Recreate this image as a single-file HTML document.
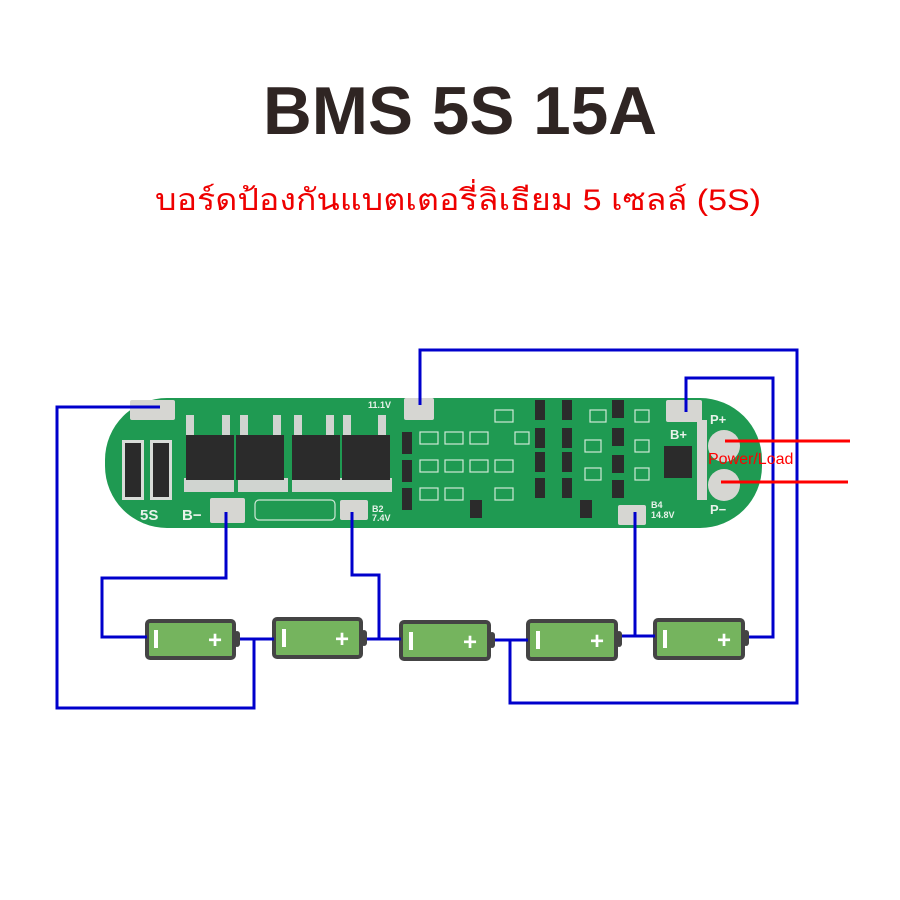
<!DOCTYPE html>
<html><head><meta charset="utf-8"><style>
html,body{margin:0;padding:0;background:#fff;width:900px;height:900px;overflow:hidden}
</style></head><body>
<svg width="900" height="900" viewBox="0 0 900 900" xmlns="http://www.w3.org/2000/svg">
<rect width="900" height="900" fill="#fff"/>
<text x="460" y="134" text-anchor="middle" font-family="Liberation Sans, sans-serif" font-weight="bold" font-size="68" fill="#2f2523" textLength="394" lengthAdjust="spacingAndGlyphs">BMS 5S 15A</text>
<text x="458" y="210" text-anchor="middle" font-family="Liberation Sans, sans-serif" font-size="30" fill="#ee0000" textLength="606" lengthAdjust="spacingAndGlyphs">บอร์ดป้องกันแบตเตอรี่ลิเธียม 5 เซลล์ (5S)</text>

<!-- PCB -->
<rect x="105" y="398" width="657" height="130" rx="62" fill="#1f9a52"/>
<!-- resistors -->
<rect x="122" y="440" width="22" height="60" fill="#d8dcd8"/>
<rect x="125" y="443" width="16" height="54" fill="#2a2a2a"/>
<rect x="150" y="440" width="22" height="60" fill="#d8dcd8"/>
<rect x="153" y="443" width="16" height="54" fill="#2a2a2a"/>
<!-- mosfets -->
<g fill="#d0d4d0">
<rect x="186" y="415" width="8" height="22"/><rect x="222" y="415" width="8" height="22"/>
<rect x="240" y="415" width="8" height="22"/><rect x="273" y="415" width="8" height="22"/>
<rect x="294" y="415" width="8" height="22"/><rect x="326" y="415" width="8" height="22"/>
<rect x="343" y="415" width="8" height="22"/><rect x="378" y="415" width="8" height="22"/>
<rect x="184" y="478" width="50" height="14"/><rect x="238" y="478" width="50" height="14"/>
<rect x="292" y="478" width="50" height="14"/><rect x="342" y="478" width="50" height="14"/>
</g>
<g fill="#2b2b2b">
<rect x="186" y="435" width="48" height="45"/><rect x="236" y="435" width="48" height="45"/>
<rect x="292" y="435" width="48" height="45"/><rect x="342" y="435" width="48" height="45"/>
</g>
<!-- small components -->
<g fill="#2b2b2b">
<rect x="402" y="432" width="10" height="22"/><rect x="402" y="460" width="10" height="22"/><rect x="402" y="488" width="10" height="22"/>
<rect x="535" y="400" width="10" height="20"/><rect x="535" y="428" width="10" height="20"/><rect x="535" y="452" width="10" height="20"/><rect x="535" y="478" width="10" height="20"/>
<rect x="562" y="400" width="10" height="20"/><rect x="562" y="428" width="10" height="20"/><rect x="562" y="452" width="10" height="20"/><rect x="562" y="478" width="10" height="20"/>
<rect x="612" y="400" width="12" height="18"/><rect x="612" y="428" width="12" height="18"/><rect x="612" y="455" width="12" height="18"/><rect x="612" y="480" width="12" height="18"/>
<rect x="664" y="446" width="28" height="32"/>
<rect x="470" y="500" width="12" height="18"/><rect x="580" y="500" width="12" height="18"/>
</g>
<g fill="none" stroke="#cfe8d6" stroke-width="1.2">
<rect x="420" y="432" width="18" height="12"/><rect x="445" y="432" width="18" height="12"/><rect x="470" y="432" width="18" height="12"/>
<rect x="420" y="460" width="18" height="12"/><rect x="445" y="460" width="18" height="12"/><rect x="470" y="460" width="18" height="12"/><rect x="495" y="460" width="18" height="12"/>
<rect x="420" y="488" width="18" height="12"/><rect x="445" y="488" width="18" height="12"/><rect x="495" y="488" width="18" height="12"/>
<rect x="495" y="410" width="18" height="12"/><rect x="515" y="432" width="14" height="12"/><rect x="590" y="410" width="16" height="12"/>
<rect x="585" y="440" width="16" height="12"/><rect x="585" y="468" width="16" height="12"/><rect x="635" y="410" width="14" height="12"/><rect x="635" y="440" width="14" height="12"/><rect x="635" y="468" width="14" height="12"/>
<rect x="255" y="500" width="80" height="20" rx="4"/>
</g>
<!-- pads -->
<g fill="#d6d6d2">
<rect x="130" y="400" width="45" height="20" rx="2"/>
<rect x="210" y="498" width="35" height="25" rx="2"/>
<rect x="340" y="500" width="28" height="20" rx="2"/>
<rect x="404" y="398" width="30" height="22" rx="2"/>
<rect x="618" y="505" width="28" height="20" rx="2"/>
<rect x="666" y="400" width="36" height="22" rx="2"/>
<rect x="697" y="420" width="10" height="80"/>
<circle cx="724" cy="446" r="16"/>
<circle cx="724" cy="485" r="16"/>
</g>
<g font-family="Liberation Sans, sans-serif" fill="#e8f2ea" font-weight="bold">
<text x="140" y="520" font-size="15">5S</text>
<text x="182" y="520" font-size="15">B−</text>
<text x="670" y="439" font-size="13">B+</text>
<text x="710" y="424" font-size="13">P+</text>
<text x="710" y="514" font-size="13">P−</text>
<text x="372" y="512" font-size="9">B2</text>
<text x="372" y="521" font-size="9">7.4V</text>
<text x="651" y="508" font-size="9">B4</text>
<text x="651" y="518" font-size="9">14.8V</text>
<text x="368" y="408" font-size="9">11.1V</text>
</g>

<!-- Batteries -->
<g stroke="#444" stroke-width="4" fill="#75b45e">
<rect x="147" y="621" width="87" height="37" rx="3"/>
<rect x="274" y="619" width="87" height="38" rx="3"/>
<rect x="401" y="622" width="88" height="37" rx="3"/>
<rect x="528" y="621" width="88" height="38" rx="3"/>
<rect x="655" y="620" width="88" height="38" rx="3"/>
</g>
<g fill="#444">
<rect x="234" y="631" width="6" height="16" rx="3"/>
<rect x="361" y="630" width="6" height="16" rx="3"/>
<rect x="489" y="632" width="6" height="16" rx="3"/>
<rect x="616" y="631" width="6" height="16" rx="3"/>
<rect x="743" y="630" width="6" height="16" rx="3"/>
</g>
<g fill="#fff" font-family="Liberation Sans, sans-serif" font-weight="bold" font-size="24">
<rect x="154" y="630" width="4" height="18"/><text x="208" y="648">+</text>
<rect x="282" y="629" width="4" height="18"/><text x="335" y="647">+</text>
<rect x="409" y="632" width="4" height="18"/><text x="463" y="650">+</text>
<rect x="536" y="631" width="4" height="18"/><text x="590" y="649">+</text>
<rect x="663" y="630" width="4" height="18"/><text x="717" y="648">+</text>
</g>

<!-- Wires -->
<g fill="none" stroke="#0000cc" stroke-width="3">
<polyline points="160,407 57,407 57,708 254,708 254,639 240,639 274,639"/>
<polyline points="226,512 226,578 102,578 102,637 147,637"/>
<polyline points="352,512 352,575 379,575 379,639 367,639 401,639"/>
<polyline points="420,405 420,350 797,350 797,703 510,703 510,640 495,640 528,640"/>
<polyline points="635,512 635,636 622,636 655,636"/>
<polyline points="686,412 686,378 773,378 773,637 749,637"/>
</g>
<g stroke="#ff0000" stroke-width="3">
<line x1="725" y1="441" x2="850" y2="441"/>
<line x1="721" y1="482" x2="848" y2="482"/>
</g>
<text x="708" y="464" font-family="Liberation Sans, sans-serif" font-size="16" fill="#ff0000">Power/Load</text>
</svg>
</body></html>
